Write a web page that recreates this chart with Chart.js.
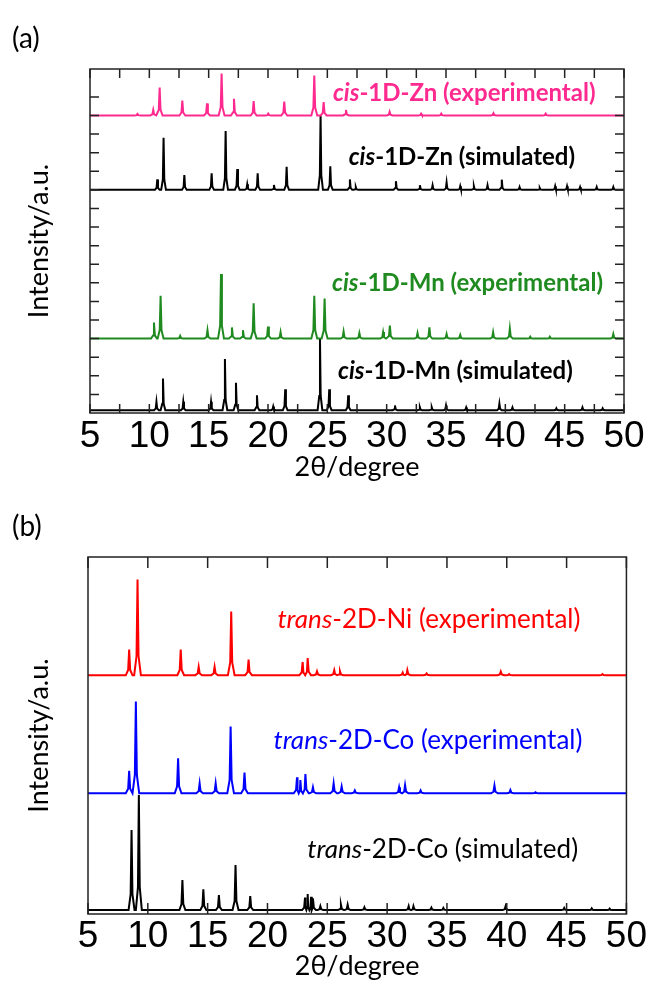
<!DOCTYPE html>
<html>
<head>
<meta charset="utf-8">
<script src="https://cdn.jsdelivr.net/npm/chart.js@4.4.0/dist/chart.umd.min.js"></script>
<style>
html, body { margin: 0; padding: 0; background: #fff; }
#wrap { position: relative; width: 648px; height: 982px; }
.panel { position: absolute; left: 0; width: 648px; }
#pa { top: 0; height: 490px; }
#pb { top: 490px; height: 492px; }
.tag { position: absolute; left: 12px; font: 28px Lato, sans-serif; line-height: 1; color: #000; }
</style>
</head>
<body>
<div id="wrap">
  <div class="panel" id="pa"><canvas id="ga"></canvas></div>
  <div class="panel" id="pb"><canvas id="gb"></canvas></div>
  <div class="tag" style="top:23px">(a)</div>
  <div class="tag" style="top:511px">(b)</div>
</div>
<script>
// peak lists: 2theta (deg) and height above the trace baseline (a.u.)

// (a) cis-1D-Zn experimental
var znExpPos = [9.0, 10.33, 10.87, 12.78, 14.86, 16.09, 17.13, 18.79, 20.02, 21.37, 23.9, 24.69, 26.57, 30.25, 32.9, 34.6, 39.0, 43.4];
var znExpH   = [0.08, 0.3, 1.5, 0.8, 0.65, 2.25, 0.9, 0.77, 0.1, 0.75, 2.15, 0.72, 0.3, 0.2, 0.1, 0.1, 0.12, 0.1];
// (a) cis-1D-Zn simulated
var znSimPos = [10.67, 11.2, 12.95, 15.25, 16.43, 17.41, 18.25, 19.13, 20.5, 21.57, 24.43, 25.25, 26.9, 27.4, 30.78, 32.8, 33.87, 35.05, 36.2, 37.35, 38.5, 39.7, 41.2, 42.9, 44.2, 45.2, 46.3, 47.7, 49.1];
var znSimH   = [0.56, 2.8, 0.8, 0.89, 3.16, 1.12, 0.3, 0.89, 0.26, 1.24, 4.0, 1.27, 0.56, 0.15, 0.47, 0.25, 0.25, 0.4, 0.2, 0.2, 0.25, 0.55, 0.15, 0.1, 0.2, 0.2, 0.15, 0.15, 0.15];
// (a) cis-1D-Mn experimental
var mnExpPos = [10.39, 10.95, 12.6, 14.9, 16.04, 16.96, 17.89, 18.79, 20.0, 21.06, 23.9, 24.77, 26.37, 27.7, 29.7, 30.27, 32.6, 33.6, 35.05, 36.2, 38.97, 40.38, 42.1, 43.75, 49.1];
var mnExpH   = [0.87, 2.3, 0.15, 0.45, 3.47, 0.6, 0.45, 1.9, 0.65, 0.35, 2.3, 2.16, 0.38, 0.3, 0.35, 0.7, 0.3, 0.6, 0.25, 0.2, 0.35, 0.55, 0.1, 0.1, 0.25];
// (a) cis-1D-Mn simulated
var mnSimPos = [10.6, 11.15, 12.86, 15.2, 16.37, 17.3, 19.07, 20.44, 21.45, 24.38, 25.16, 26.76, 30.7, 32.8, 33.8, 35.0, 36.7, 39.5, 40.6, 44.3, 46.5, 48.2];
var mnSimH   = [0.45, 1.71, 0.45, 0.45, 2.75, 1.48, 0.8, 0.2, 1.13, 3.85, 1.13, 0.8, 0.25, 0.15, 0.15, 0.25, 0.15, 0.35, 0.15, 0.1, 0.15, 0.1];

// (b) trans-2D-Ni experimental
var niExpPos = [8.44, 9.14, 12.75, 14.25, 15.58, 16.97, 18.42, 22.94, 23.36, 24.14, 25.58, 26.06, 31.3, 31.69, 33.3, 39.5, 40.2, 48.0];
var niExpH   = [7.2, 26.8, 7.2, 2.3, 2.3, 17.8, 4.4, 3.7, 4.8, 1.1, 1.4, 1.1, 0.7, 1.4, 0.5, 1.0, 0.3, 0.3];
// (b) trans-2D-Co experimental
var coExpPos = [8.44, 9.0, 12.53, 14.33, 15.67, 16.92, 18.08, 22.47, 22.75, 23.17, 23.8, 25.53, 26.2, 27.3, 31.0, 31.5, 32.8, 38.97, 40.3, 42.4];
var coExpH   = [6.3, 25.7, 9.8, 2.8, 2.8, 18.7, 5.8, 4.5, 3.7, 5.4, 1.7, 2.8, 1.9, 0.8, 1.7, 2.3, 0.8, 2.2, 0.9, 0.3];
// (b) trans-2D-Co simulated
var coSimPos = [8.64, 9.25, 12.89, 14.64, 15.94, 17.33, 18.56, 23.14, 23.36, 23.64, 23.8, 24.42, 26.14, 26.7, 28.1, 31.8, 32.2, 33.7, 34.7, 39.9, 44.8, 47.1, 48.6];
var coSimH   = [22.4, 32.2, 8.4, 5.8, 4.2, 12.6, 3.9, 3.5, 4.5, 3.7, 3.3, 1.1, 1.5, 1.5, 0.8, 1.1, 1.1, 0.7, 0.6, 1.1, 0.6, 0.5, 0.4];

// vertical offsets of the stacked patterns
var baseA = { znExp: 16, znSim: 12, mnExp: 4, mnSim: 0.15 };
var baseB = { niExp: 66.9, coExp: 33.8, coSim: 1.1 };

// text labels, anchored in data units (left end, vertical middle)
var labelsA = [
  { em: 'cis', rest: '-1D-Zn (experimental)', x: 25.47, y: 17.2, color: '#ff2a8f' },
  { em: 'cis', rest: '-1D-Zn (simulated)', x: 26.8, y: 13.76, color: '#000' },
  { em: 'cis', rest: '-1D-Mn (experimental)', x: 25.4, y: 6.99, color: '#1f8a1f' },
  { em: 'cis', rest: '-1D-Mn (simulated)', x: 25.9, y: 2.26, color: '#000' }
];
var labelsB = [
  { em: 'trans', rest: '-2D-Ni (experimental)', x: 20.83, y: 82.6, color: '#ff0000' },
  { em: 'trans', rest: '-2D-Co (experimental)', x: 20.5, y: 48.7, color: '#0000ff' },
  { em: 'trans', rest: '-2D-Co (simulated)', x: 23.33, y: 17.9, color: '#000' }
];

// turn a peak list into line points
function trace(pos, h, base, w) {
  var pts = [{ x: 5, y: base }];
  for (var i = 0; i < pos.length; i++) {
    var lw = w, rw = w;
    if (i > 0) lw = Math.min(w, (pos[i] - pos[i - 1]) / 2);
    if (i < pos.length - 1) rw = Math.min(w, (pos[i + 1] - pos[i]) / 2);
    pts.push({ x: pos[i] - lw, y: base });
    pts.push({ x: pos[i] - lw * 0.3, y: base + h[i] * 0.2 });
    pts.push({ x: pos[i], y: base + h[i] });
    pts.push({ x: pos[i] + rw * 0.3, y: base + h[i] * 0.2 });
    pts.push({ x: pos[i] + rw, y: base });
  }
  pts.push({ x: 50, y: base });
  return pts;
}

function ds(points, color) {
  return { data: points, borderColor: color, borderWidth: 2, pointRadius: 0, tension: 0, fill: false };
}

// box + inward ticks
var framePlugin = {
  id: 'frame',
  afterDraw: function (chart, args, opts) {
    var ctx = chart.ctx, a = chart.chartArea, xs = chart.scales.x, ys = chart.scales.y;
    ctx.save();
    ctx.strokeStyle = '#222';
    ctx.lineWidth = 1.5;
    ctx.strokeRect(a.left, a.top, a.right - a.left, a.bottom - a.top);
    ctx.beginPath();
    xs.ticks.forEach(function (t) {
      var px = xs.getPixelForValue(t.value);
      ctx.moveTo(px, a.bottom); ctx.lineTo(px, a.bottom - opts.len);
      ctx.moveTo(px, a.top); ctx.lineTo(px, a.top + opts.len);
    });
    if (opts.yTicks) {
      ys.ticks.forEach(function (t) {
        if (!Number.isInteger(t.value) || t.value === 0) return;
        var py = ys.getPixelForValue(t.value);
        ctx.moveTo(a.left, py); ctx.lineTo(a.left + opts.len, py);
        ctx.moveTo(a.right, py); ctx.lineTo(a.right - opts.len, py);
      });
    }
    ctx.stroke();
    ctx.restore();
  }
};

var seriesLabels = {
  id: 'seriesLabels',
  afterDatasetsDraw: function (chart, args, opts) {
    var ctx = chart.ctx, xs = chart.scales.x, ys = chart.scales.y;
    opts.items.forEach(function (it) {
      var x = xs.getPixelForValue(it.x), y = ys.getPixelForValue(it.y);
      ctx.save();
      ctx.textBaseline = 'middle';
      ctx.fillStyle = it.color;
      ctx.font = 'italic ' + opts.weight + ' ' + opts.size + 'px Lato';
      ctx.fillText(it.em, x, y);
      var w = ctx.measureText(it.em).width;
      ctx.font = opts.weight + ' ' + opts.size + 'px Lato';
      ctx.fillText(it.rest, x + w, y);
      ctx.restore();
    });
  }
};

var tickFont = { family: "'Liberation Sans Narrow', 'Liberation Sans', Arial, sans-serif", size: 37 };
var titleFont = { family: "Lato, 'Open Sans', sans-serif", size: 27, lineHeight: 1 };

function makeOptions(o) {
  return {
    responsive: true,
    maintainAspectRatio: false,
    animation: false,
    layout: { padding: { top: o.top, right: o.right, left: 0, bottom: 0 } },
    plugins: {
      legend: { display: false },
      tooltip: { enabled: false },
      frame: { len: o.tickLen, yTicks: o.yTicks },
      seriesLabels: { items: o.labels, size: o.labelSize, weight: o.labelWeight }
    },
    scales: {
      x: {
        type: 'linear', min: 5, max: 50,
        grid: { display: false, drawTicks: false },
        border: { display: false },
        ticks: {
          stepSize: o.xStep, autoSkip: false, maxRotation: 0, color: '#000', font: tickFont, padding: o.tickPad,
          callback: function (v) { return v % 5 === 0 ? v : ''; }
        },
        title: { display: true, text: '2θ/degree', color: '#000', font: titleFont, padding: { top: 0, bottom: o.xTitlePad } },
        afterFit: function (s) { s.height = o.xHeight; }
      },
      y: {
        min: 0, max: o.yMax,
        grid: { display: false, drawTicks: false },
        border: { display: false },
        ticks: { display: false, stepSize: 1 },
        title: { display: true, text: 'Intensity/a.u.', color: '#000', font: titleFont, padding: { top: 26, bottom: 0 } },
        afterFit: function (s) { s.width = o.yWidth; }
      }
    }
  };
}

new Chart(document.getElementById('ga'), {
  type: 'line',
  data: {
    datasets: [
      ds(trace(znExpPos, znExpH, baseA.znExp, 0.25), '#ff2a8f'),
      ds(trace(znSimPos, znSimH, baseA.znSim, 0.2), '#000'),
      ds(trace(mnExpPos, mnExpH, baseA.mnExp, 0.25), '#1f8a1f'),
      ds(trace(mnSimPos, mnSimH, baseA.mnSim, 0.2), '#000')
    ]
  },
  options: makeOptions({
    top: 69, right: 24, yWidth: 90, xHeight: 77, yMax: 18.5, xStep: 2.5, tickLen: 9, yTicks: true,
    tickPad: 2, xTitlePad: 9, labels: labelsA, labelSize: 24, labelWeight: 'bold'
  }),
  plugins: [framePlugin, seriesLabels]
});

new Chart(document.getElementById('gb'), {
  type: 'line',
  data: {
    datasets: [
      ds(trace(niExpPos, niExpH, baseB.niExp, 0.28), '#ff0000'),
      ds(trace(coExpPos, coExpH, baseB.coExp, 0.28), '#0000ff'),
      ds(trace(coSimPos, coSimH, baseB.coSim, 0.25), '#000')
    ]
  },
  options: makeOptions({
    top: 67, right: 21, yWidth: 88, xHeight: 68, yMax: 100, xStep: 5, tickLen: 11, yTicks: false,
    tickPad: 1, xTitlePad: 2, labels: labelsB, labelSize: 26, labelWeight: 'normal'
  }),
  plugins: [framePlugin, seriesLabels]
});
</script>
</body>
</html>
